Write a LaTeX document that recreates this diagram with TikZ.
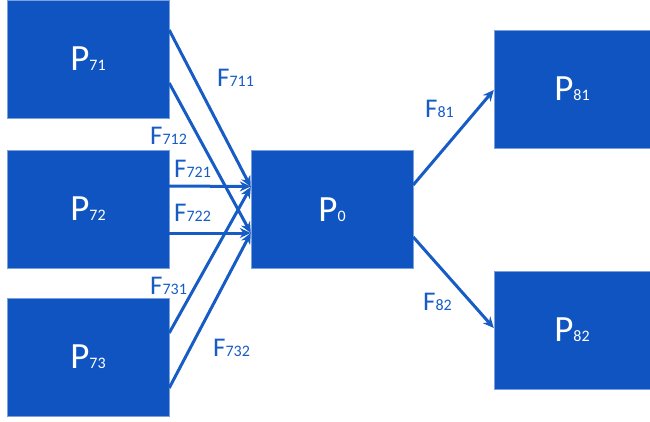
\documentclass[tikz,border=0pt]{standalone}
\usepackage{fontspec}
\setmainfont{Carlito}
\usetikzlibrary{arrows.meta}

\definecolor{boxblue}{RGB}{15,84,192}
\definecolor{flowblue}{RGB}{22,92,196}
\newcommand{\idx}[1]{{\fontsize{16}{16}\selectfont #1}}

\tikzset{
  proc/.style={draw=boxblue!55!white, fill=boxblue, text=white, inner sep=0pt,
    minimum width=162pt, minimum height=118pt, font=\fontsize{37}{37}\selectfont},
  flow/.style={flowblue, line width=3pt, -{Stealth[length=11pt,width=10pt]}},
  flab/.style={text=flowblue, anchor=base west, inner sep=0pt, font=\fontsize{27}{27}\selectfont}
}

\begin{document}
\begin{tikzpicture}[x=1pt,y=-1pt]
    \useasboundingbox (0,0) rectangle (650,422);

    \node[proc] (p71) at (88,59) {P\idx{71}};
    \node[proc] (p72) at (88,209) {P\idx{72}};
    \node[proc] (p73) at (88,357) {P\idx{73}};
    \node[proc] (p0) at (332,209.5) {P\idx{0}};
    \node[proc, minimum width=156pt] (p81) at (572,89) {P\idx{81}};
    \node[proc, minimum width=156pt] (p82) at (572,330) {P\idx{82}};

    \path[flow]
    ([yshift=29pt]p71.east) edge ([yshift=22.5pt]p0.west)
    ([yshift=-24pt]p71.east) edge ([yshift=-23.5pt]p0.west)
    ([yshift=23pt]p72.east) edge ([yshift=23pt]p0.west)
    ([yshift=-24pt]p72.east) edge ([yshift=-23.5pt]p0.west)
    ([yshift=24pt]p73.east) edge ([yshift=22.5pt]p0.west)
    ([yshift=-31pt]p73.east) edge ([yshift=-23.5pt]p0.west)

    ([yshift=24.5pt]p0.east) edge ([yshift=-1pt]p81.west)
    ([yshift=-27.5pt]p0.east) edge ([yshift=2pt]p82.west);

    \node[flab] (f711) at (217,87) {F\idx{711}};
    \node[flab] (f712) at (150,145) {F\idx{712}};
    \node[flab] (f721) at (174,178) {F\idx{721}};
    \node[flab] (f722) at (174,221) {F\idx{722}};
    \node[flab] (f731) at (150,294) {F\idx{731}};
    \node[flab] (f732) at (213,356) {F\idx{732}};
    \node[flab] (f81) at (425,118) {F\idx{81}};
    \node[flab] (f82) at (423,310) {F\idx{82}};
\end{tikzpicture}
\end{document}
